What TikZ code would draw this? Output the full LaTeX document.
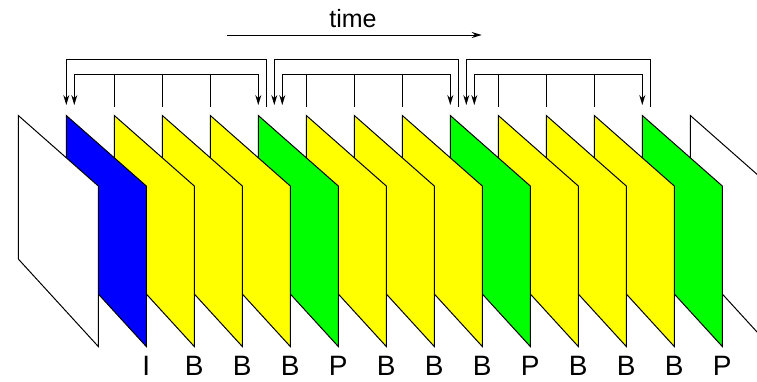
\documentclass[tikz,border=0pt]{standalone}
\usepackage{fontspec}
\setmainfont{Liberation Sans}
\usetikzlibrary{arrows.meta,calc}
\definecolor{iblue}{RGB}{0,0,255}
\definecolor{pgreen}{RGB}{0,255,0}
\definecolor{byellow}{RGB}{255,255,0}

\begin{document}
\begin{tikzpicture}[x=1pt, y=-1pt, line width=1pt,
  >={Stealth[length=10pt, width=6pt]},
  frm/.style={draw=black, line join=miter},
  ref/.style={->},
  tick/.style={-},
  lbl/.style={font=\fontsize{28}{28}\selectfont, anchor=base, inner sep=0pt},
  tlbl/.style={font=\fontsize{25}{25}\selectfont, inner sep=0pt}]
  \useasboundingbox (0,0) rectangle (757,381);
  \clip (0,0) rectangle (757,381);
  % frame corners (top left)
  \foreach \i in {0,...,14}
    \coordinate (f\i) at (18.3+48*\i,115.5);
  % frames, back to front
  \foreach \i/\col in {14/white,13/pgreen,12/byellow,11/byellow,10/byellow,
                       9/pgreen,8/byellow,7/byellow,6/byellow,5/pgreen,
                       4/byellow,3/byellow,2/byellow,1/iblue,0/white}
    \filldraw[frm, fill=\col] (f\i) -- ++(80,70.5) -- ++(0,160.5)
      -- ++(-80,-87.5) -- cycle;
  % frame types
  \foreach \i/\t in {1/I,2/B,3/B,4/B,5/P,6/B,7/B,8/B,9/P,10/B,11/B,12/B,13/P}
    \node[lbl] (l\i) at ($(f\i)+(80,259.5)$) {\t};
  % time axis
  \node[tlbl] (time) at (353,19) {time};
  \coordinate (tstart) at (226.7,35);
  \coordinate (tend) at (481.7,35);
  \draw[->] (tstart) -- (tend);
  % references
  \foreach \s/\e/\o in {1/5/0, 5/9/16, 9/13/16}{
    \draw[ref] ($(f\e)+(8,-9)$) -- ($(f\e)+(8,-56.2)$)
      -- ($(f\s)+(\o,-56.2)$) -- ($(f\s)+(\o,-10.5)$);
    \draw[<->] ($(f\s)+(\o+8,-10.5)$) -- ($(f\s)+(\o+8,-41.2)$)
      -- ($(f\e)+(0,-41.2)$) -- ($(f\e)+(0,-10.5)$);
    \foreach \b in {1,2,3}{
      \pgfmathtruncatemacro{\k}{\s+\b}
      \draw[tick] ($(f\k)+(0,-41.2)$) -- ($(f\k)+(0,-9)$);}
  }
\end{tikzpicture}
\end{document}
